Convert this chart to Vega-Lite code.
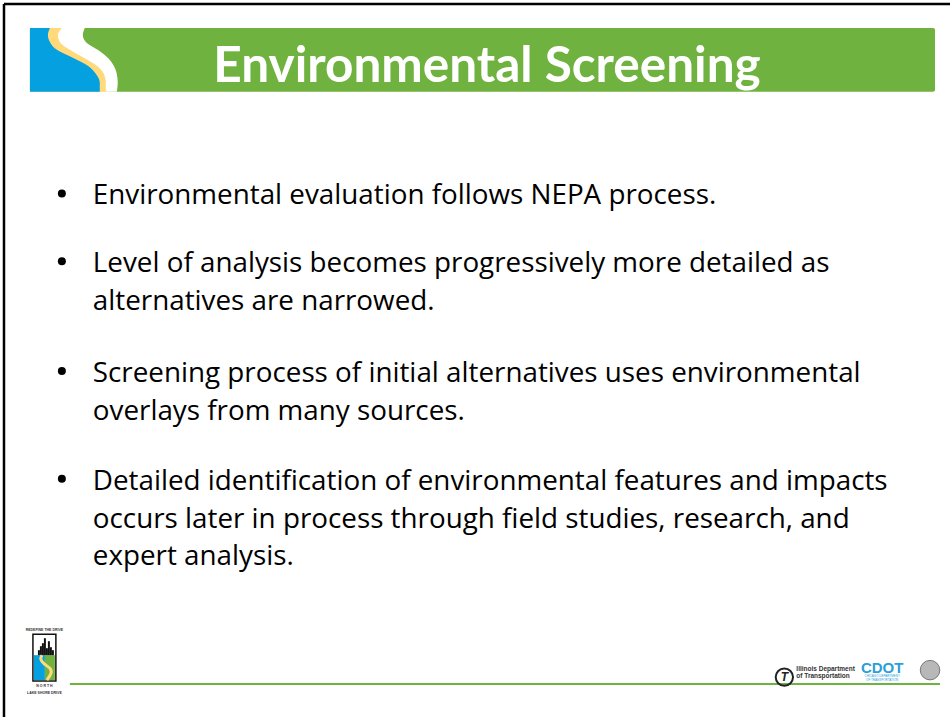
{
  "$schema": "https://vega.github.io/schema/vega-lite/v6.json",
  "width": 952,
  "height": 719,
  "padding": 0,
  "autosize": {"type": "fit", "contains": "padding"},
  "background": "white",
  "config": {"view": {"stroke": null}, "axis": {"disable": true}, "legend": {"disable": true}},
  "datasets": {
    "frame": [{"x": 4, "y": 4, "x2": 952, "y2": 4}, {"x": 4, "y": 4, "x2": 4, "y2": 719}],
    "bar": [{"x": 30, "y": 28, "x2": 937, "y2": 92}],
    "swoosh": [
      {"y": 28, "w": 85, "yl": 62, "b": 50},
      {"y": 35, "w": 83, "yl": 58, "b": 48},
      {"y": 42, "w": 86, "yl": 60, "b": 50},
      {"y": 50, "w": 98, "yl": 70, "b": 57},
      {"y": 58, "w": 108, "yl": 84, "b": 73},
      {"y": 66, "w": 114, "yl": 97, "b": 88},
      {"y": 74, "w": 117, "yl": 104, "b": 96},
      {"y": 83, "w": 118, "yl": 106, "b": 100},
      {"y": 92, "w": 117, "yl": 106, "b": 100}
    ],
    "title": [{"x": 488, "y": 82, "t": "Environmental Screening"}],
    "body": [
      {"x": 93, "y": 205, "t": "Environmental evaluation follows NEPA process."},
      {"x": 93, "y": 273, "t": "Level of analysis becomes progressively more detailed as"},
      {"x": 93, "y": 311, "t": "alternatives are narrowed."},
      {"x": 93, "y": 383, "t": "Screening process of initial alternatives uses environmental"},
      {"x": 93, "y": 421, "t": "overlays from many sources."},
      {"x": 93, "y": 491, "t": "Detailed identification of environmental features and impacts"},
      {"x": 93, "y": 529, "t": "occurs later in process through field studies, research, and"},
      {"x": 93, "y": 567, "t": "expert analysis."}
    ],
    "bullets": [{"x": 62, "y": 194}, {"x": 62, "y": 262}, {"x": 62, "y": 372}, {"x": 62, "y": 480}],
    "footline": [{"x": 70, "y": 686, "x2": 942, "y2": 686}],
    "logoFrame": [{"x": 33, "y": 636, "x2": 56, "y2": 683}],
    "logoBlue": [{"x": 34, "y": 657, "x2": 45, "y2": 682}],
    "logoGreen": [{"x": 45, "y": 657, "x2": 55, "y2": 682}],
    "skyline": [
      {"x": 38, "x2": 40, "y": 652, "y2": 657},
      {"x": 40, "x2": 42, "y": 648, "y2": 657},
      {"x": 42, "x2": 44, "y": 645, "y2": 657},
      {"x": 44, "x2": 46, "y": 640, "y2": 657},
      {"x": 46, "x2": 48, "y": 650, "y2": 657},
      {"x": 48, "x2": 50, "y": 643, "y2": 657},
      {"x": 50, "x2": 52, "y": 649, "y2": 657},
      {"x": 52, "x2": 54, "y": 652, "y2": 657}
    ],
    "logoS": [
      {"i": 1, "x": 42, "y": 657},
      {"i": 2, "x": 40, "y": 661},
      {"i": 3, "x": 44, "y": 666},
      {"i": 4, "x": 51, "y": 670},
      {"i": 5, "x": 52, "y": 675},
      {"i": 6, "x": 47, "y": 682}
    ],
    "logoText": [
      {"x": 44.5, "y": 633, "t": "REDEFINE THE DRIVE"},
      {"x": 44.5, "y": 689, "t": "N  O  R  T  H"},
      {"x": 44.5, "y": 696, "t": "LAKE SHORE DRIVE"}
    ],
    "idotCircle": [{"x": 786, "y": 679}],
    "idotMark": [{"x": 786, "y": 683, "t": "T"}],
    "idotText": [
      {"x": 798, "y": 673, "t": "Illinois Department"},
      {"x": 798, "y": 680, "t": "of Transportation"}
    ],
    "cdot": [{"x": 884, "y": 675, "t": "CDOT"}],
    "cdotSmall": [
      {"x": 884, "y": 679, "t": "CHICAGO DEPARTMENT"},
      {"x": 884, "y": 683, "t": "OF TRANSPORTATION"}
    ],
    "seal": [{"x": 932, "y": 672}]
  },
  "encoding": {
    "x": {"field": "x", "type": "quantitative", "scale": {"domain": [0, 952], "nice": false, "zero": false}},
    "y": {"field": "y", "type": "quantitative", "scale": {"domain": [0, 719], "nice": false, "zero": false, "reverse": true}}
  },
  "layer": [
    {
      "data": {"name": "frame"},
      "mark": {"type": "rule", "color": "#000000", "strokeWidth": 2.5},
      "encoding": {"x2": {"field": "x2"}, "y2": {"field": "y2"}}
    },
    {
      "data": {"name": "bar"},
      "mark": {"type": "rect", "color": "#6fb23f", "cornerRadius": 2},
      "encoding": {"x2": {"field": "x2"}, "y2": {"field": "y2"}}
    },
    {
      "data": {"name": "swoosh"},
      "mark": {"type": "area", "orient": "horizontal", "color": "#ffffff", "interpolate": "monotone", "opacity": 1},
      "encoding": {"x": {"field": "w", "type": "quantitative"}, "x2": {"datum": 30}}
    },
    {
      "data": {"name": "swoosh"},
      "mark": {"type": "area", "orient": "horizontal", "color": "#ffd97a", "interpolate": "monotone", "opacity": 1},
      "encoding": {"x": {"field": "yl", "type": "quantitative"}, "x2": {"datum": 30}}
    },
    {
      "data": {"name": "swoosh"},
      "mark": {"type": "area", "orient": "horizontal", "color": "#05a0e0", "interpolate": "monotone", "opacity": 1},
      "encoding": {"x": {"field": "b", "type": "quantitative"}, "x2": {"datum": 30}}
    },
    {
      "data": {"name": "title"},
      "mark": {"type": "text", "font": "Lato", "fontWeight": "bold", "fontSize": 49.5, "color": "#ffffff", "align": "center", "baseline": "alphabetic"},
      "encoding": {"text": {"field": "t"}}
    },
    {
      "data": {"name": "body"},
      "mark": {"type": "text", "font": "Open Sans", "fontSize": 27.8, "color": "#000000", "align": "left", "baseline": "alphabetic"},
      "encoding": {"text": {"field": "t"}}
    },
    {
      "data": {"name": "bullets"},
      "mark": {"type": "point", "shape": "circle", "filled": true, "size": 64, "color": "#000000", "opacity": 1}
    },
    {
      "data": {"name": "footline"},
      "mark": {"type": "rule", "color": "#6db33f", "strokeWidth": 2},
      "encoding": {"x2": {"field": "x2"}, "y2": {"field": "y2"}}
    },
    {
      "data": {"name": "logoFrame"},
      "mark": {"type": "rect", "fill": "#ffffff", "stroke": "#111111", "strokeWidth": 1.5},
      "encoding": {"x2": {"field": "x2"}, "y2": {"field": "y2"}}
    },
    {
      "data": {"name": "logoBlue"},
      "mark": {"type": "rect", "color": "#05a0e0"},
      "encoding": {"x2": {"field": "x2"}, "y2": {"field": "y2"}}
    },
    {
      "data": {"name": "logoGreen"},
      "mark": {"type": "rect", "color": "#6fb23f"},
      "encoding": {"x2": {"field": "x2"}, "y2": {"field": "y2"}}
    },
    {
      "data": {"name": "skyline"},
      "mark": {"type": "rect", "color": "#111111"},
      "encoding": {"x2": {"field": "x2"}, "y2": {"field": "y2"}}
    },
    {
      "data": {"name": "logoS"},
      "mark": {"type": "line", "color": "#ffd97a", "strokeWidth": 3, "interpolate": "basis"},
      "encoding": {"order": {"field": "i", "type": "quantitative"}}
    },
    {
      "data": {"name": "logoText"},
      "mark": {"type": "text", "font": "Liberation Sans", "fontWeight": "bold", "fontSize": 3.5, "color": "#333333", "align": "center", "baseline": "alphabetic"},
      "encoding": {"text": {"field": "t"}}
    },
    {
      "data": {"name": "idotCircle"},
      "mark": {"type": "point", "shape": "circle", "filled": false, "size": 300, "color": "#222222", "strokeWidth": 2, "opacity": 1}
    },
    {
      "data": {"name": "idotMark"},
      "mark": {"type": "text", "font": "Liberation Sans", "fontWeight": "bold", "fontStyle": "italic", "fontSize": 12, "color": "#222222", "align": "center", "baseline": "alphabetic"},
      "encoding": {"text": {"field": "t"}}
    },
    {
      "data": {"name": "idotText"},
      "mark": {"type": "text", "font": "Liberation Sans", "fontWeight": "bold", "fontSize": 6.5, "color": "#333333", "align": "left", "baseline": "alphabetic"},
      "encoding": {"text": {"field": "t"}}
    },
    {
      "data": {"name": "cdot"},
      "mark": {"type": "text", "font": "Liberation Sans", "fontWeight": "bold", "fontSize": 15, "color": "#2a9fd8", "align": "center", "baseline": "alphabetic"},
      "encoding": {"text": {"field": "t"}}
    },
    {
      "data": {"name": "cdotSmall"},
      "mark": {"type": "text", "font": "Liberation Sans", "fontSize": 3, "color": "#2a9fd8", "align": "center", "baseline": "alphabetic"},
      "encoding": {"text": {"field": "t"}}
    },
    {
      "data": {"name": "seal"},
      "mark": {"type": "point", "shape": "circle", "filled": true, "size": 380, "color": "#b8b8b8", "stroke": "#777777", "strokeWidth": 1, "opacity": 1}
    }
  ]
}
